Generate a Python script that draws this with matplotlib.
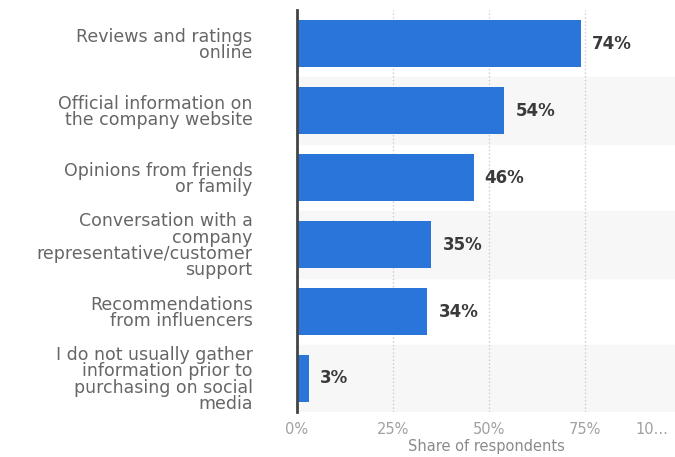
import matplotlib.pyplot as plt
import numpy as np

# Data
categories = [
    'Reviews and ratings\nonline',
    'Official information on\nthe company website',
    'Opinions from friends\nor family',
    'Conversation with a\ncompany\nrepresentative/customer\nsupport',
    'Recommendations\nfrom influencers',
    'I do not usually gather\ninformation prior to\npurchasing on social\nmedia',
]
shares = [74, 54, 46, 35, 34, 3]
tick_values = [0, 25, 50, 75]
tick_labels = ['0%', '25%', '50%', '75%']

plt.rcParams['font.family'] = ['DejaVu Sans']

fig = plt.figure(figsize=(6.75, 4.57), dpi=100)
ax = fig.add_axes([0.44, 0.0985, 0.56, 0.8795])

y = np.arange(len(categories))

# alternating row bands
for i in y:
    if i % 2 == 1:
        ax.axhspan(i - 0.5, i + 0.5, color='#f7f7f7', zorder=0)

ax.barh(y, shares, height=0.7, color='#2a75d9', zorder=3)

for yi, v in zip(y, shares):
    ax.text(v + 2.9, yi, f'{v}%', va='center', ha='left',
            fontsize=12, fontweight='bold', color='#3a3a3a', zorder=4)

ax.set_xlim(0, 98.5)
ax.set_ylim(len(categories) - 0.5, -0.5)

ax.set_yticks(y)
ax.set_yticklabels(categories, fontsize=12.5, color='#666666',
                   linespacing=0.88)
ax.tick_params(axis='y', length=0, pad=32)

ax.set_xticks(tick_values)
ax.set_xticklabels(tick_labels, fontsize=10.5, color='#a0a0a0')
ax.tick_params(axis='x', length=0, pad=7)
ax.text(92.5, -0.024, '10...', transform=ax.get_xaxis_transform(),
        ha='center', va='top', fontsize=10.5, color='#a0a0a0')

ax.set_xlabel('Share of respondents', fontsize=10.5, color='#8a8a8a',
              labelpad=2)

ax.grid(axis='x', linestyle=':', color='#cccccc', linewidth=1, zorder=1)
ax.set_axisbelow(True)

for s in ['top', 'right', 'bottom']:
    ax.spines[s].set_visible(False)
ax.spines['left'].set_color('#444444')
ax.spines['left'].set_linewidth(2)
ax.spines['left'].set_zorder(5)

fig.savefig('out.png', dpi=100, facecolor='white')
